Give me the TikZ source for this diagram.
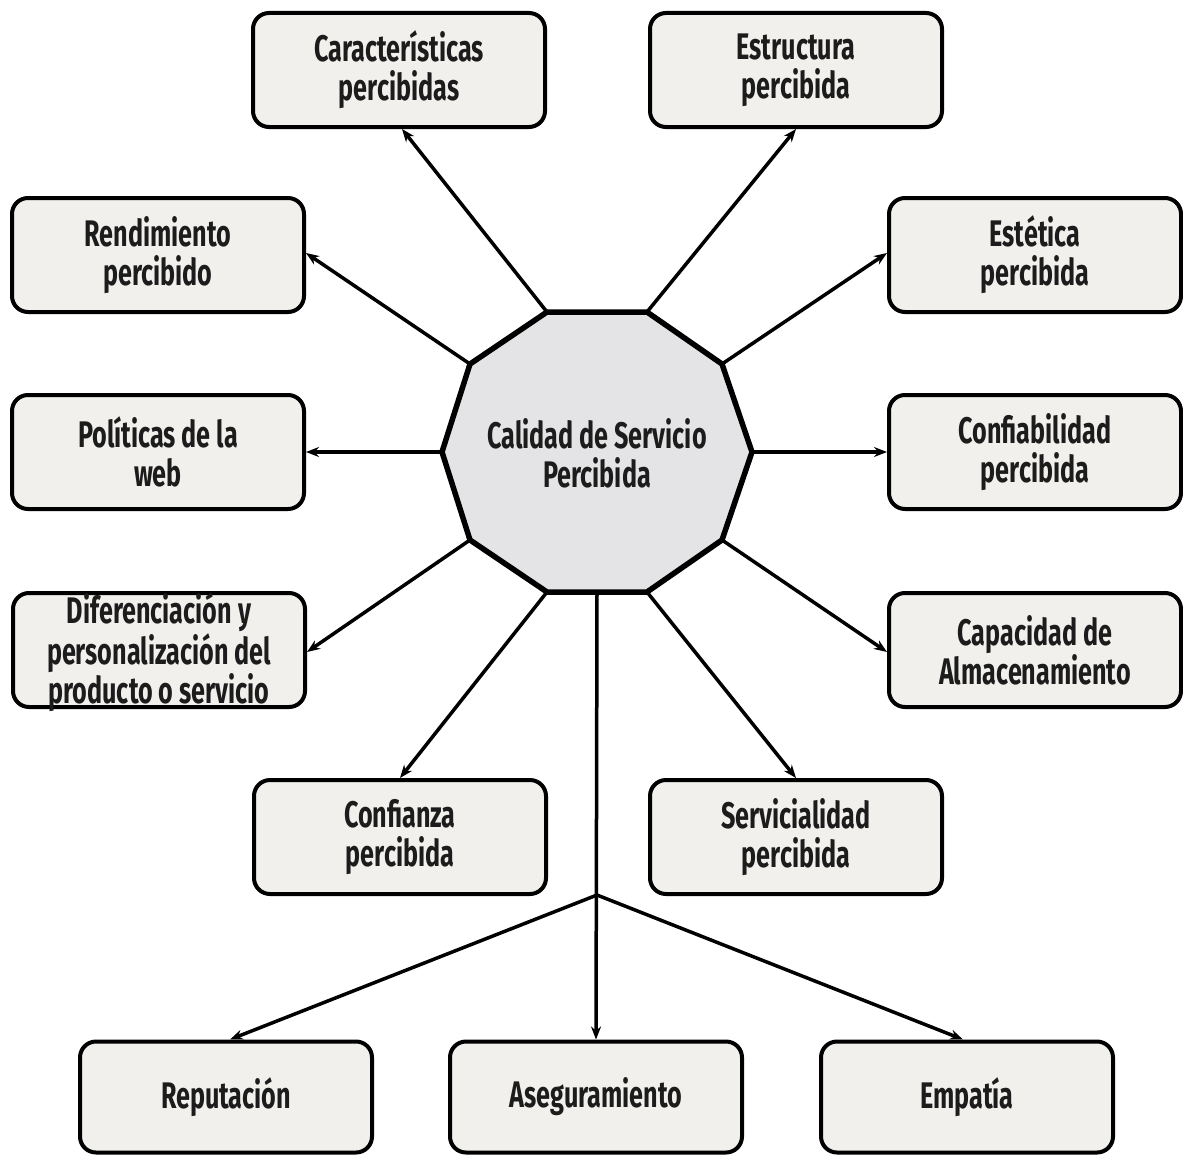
\documentclass[tikz,border=0pt]{standalone}
\usepackage{fontspec}
\setmainfont{Fira Sans}[FakeStretch=0.68]
\usetikzlibrary{arrows.meta}
\definecolor{boxfill}{HTML}{F1F0EC}
\definecolor{hubfill}{HTML}{E4E4E6}
\definecolor{ink}{HTML}{1C1C1C}
\newcommand\lblfont{\fontsize{37}{39}\selectfont\bfseries}

\begin{document}
\begin{tikzpicture}[x=1pt,y=-1pt,
  box/.style={draw=black, line width=4pt, rounded corners=16pt, fill=boxfill,
    minimum width=292pt, minimum height=114pt, align=center, font=\lblfont,
    text=ink, inner sep=0pt},
  link/.style={line width=3.5pt, draw=black, -{Stealth[length=13pt,width=10pt]}},
  hub/.style={line width=5.5pt, draw=black, fill=hubfill, line join=miter},
  hubtext/.style={align=center, font=\lblfont, text=ink, inner sep=0pt}]
\useasboundingbox (0,0) rectangle (1183,1156);

% outer boxes
\node[box] (car) at (399,70)   {Características\\percibidas};
\node[box] (est) at (796,70)   {Estructura\\percibida};
\node[box] (ren) at (158,255)  {Rendimiento\\percibido};
\node[box] (ets) at (1035,255) {Estética\\percibida};
\node[box] (pol) at (158,452)  {Políticas de la\\web};
\node[box] (cfb) at (1035,452) {Confiabilidad\\percibida};
\node[box] (dif) at (159,650)  {};
\node[box] (cap) at (1035,650) {Capacidad de\\Almacenamiento};
\node[box] (cfz) at (400,837)  {Confianza\\percibida};
\node[box] (ser) at (796,837)  {Servicialidad\\percibida};
\node[box, minimum height=111pt] (rep) at (226,1097) {Reputación};
\node[box, minimum height=111pt] (ase) at (596,1097) {Aseguramiento};
\node[box, minimum height=111pt] (emp) at (967,1097) {Empatía};
% three-line label whose last line sits on the lower border
\node[align=center, font=\lblfont, text=ink, inner sep=0pt, anchor=base]
  (diftxt) at (159,703) {Diferenciación y\\personalización del\\producto o servicio};

% corners of the central decagon
\coordinate (v1)  at (547,312);
\coordinate (v2)  at (647,312);
\coordinate (v3)  at (722,364);
\coordinate (v4)  at (752,452);
\coordinate (v5)  at (722,540);
\coordinate (v6)  at (647,592);
\coordinate (v7)  at (547,592);
\coordinate (v8)  at (470,540);
\coordinate (v9)  at (442,452);
\coordinate (v10) at (470,364);
\coordinate (vb)  at (597,592);
\coordinate (fork) at (597,895);

% connectors
\draw[link] (v1)  -- ([xshift=3pt]car.south);
\draw[link] (v2)  -- (est.south);
\draw[link] (v10) -- ([yshift=2pt]ren.east);
\draw[link] (v3)  -- ([yshift=2pt]ets.west);
\draw[link] (v9)  -- (pol.east);
\draw[link] (v4)  -- (cfb.west);
\draw[link] (v8)  -- ([yshift=-2pt]dif.east);
\draw[link] (v5)  -- ([yshift=-2pt]cap.west);
\draw[link] (v7)  -- (cfz.north);
\draw[link] (v6)  -- (ser.north);
\draw[link] (vb)  -- (ase.north);
\draw[link] (fork) -- ([xshift=4pt]rep.north);
\draw[link] (fork) -- ([xshift=-4pt]emp.north);

% central decagon
\draw[hub] (v1) -- (v2) -- (v3) -- (v4) -- (v5) -- (v6) -- (v7) -- (v8) -- (v9) -- (v10) -- cycle;
\node[hubtext] (hubt) at (597,453) {Calidad de Servicio\\Percibida};
\end{tikzpicture}
\end{document}
